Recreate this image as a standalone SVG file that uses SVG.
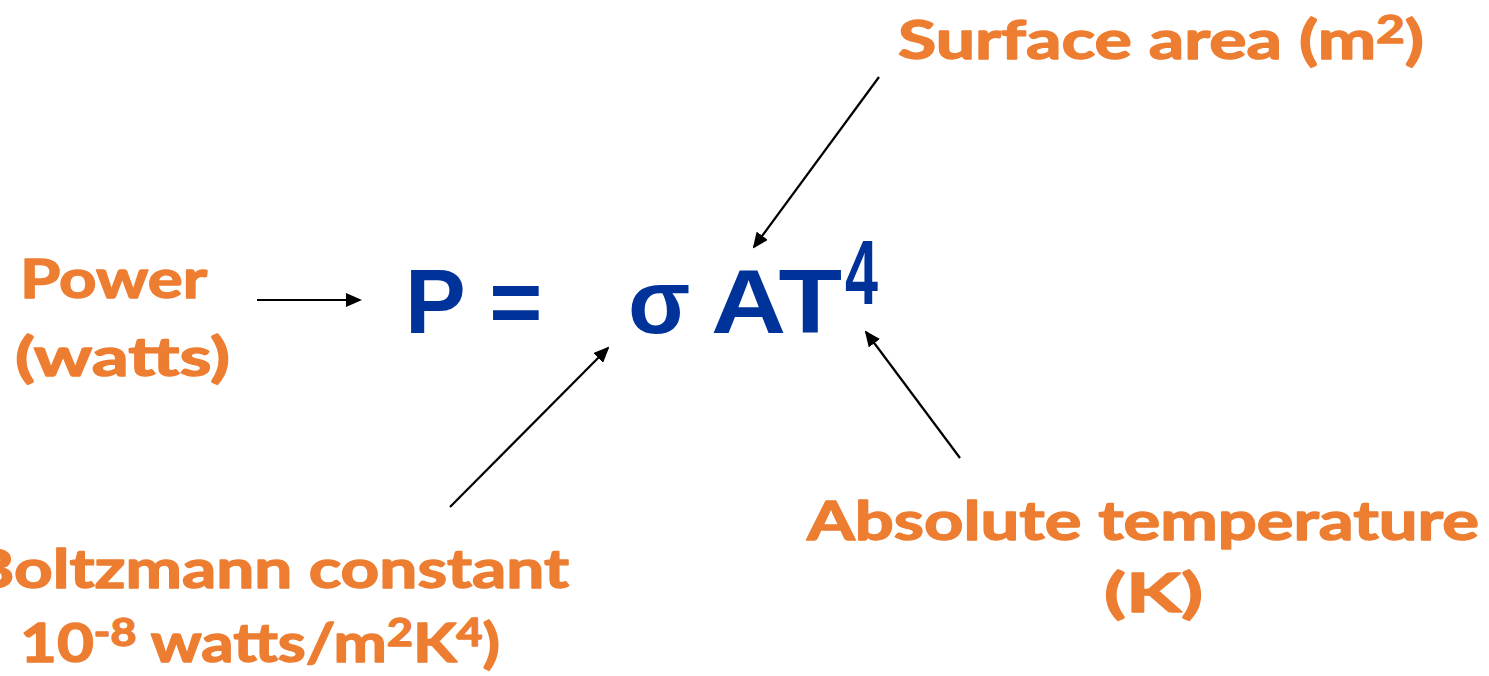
<svg xmlns="http://www.w3.org/2000/svg" width="1489" height="676" viewBox="0 0 1489 676">
  <style>
    .lbl { font-family: Lato, "Open Sans", "Liberation Sans", sans-serif; font-weight: 700; font-size: 54px; fill: #ED7D31; stroke: #ED7D31; stroke-width: 1.4px; stroke-linejoin: round; }
    .eq { font-family: "Liberation Sans", Arial, sans-serif; font-weight: 700; font-size: 91px; fill: #003399; }
    .conn { stroke: #000; stroke-width: 2.2; fill: none; marker-end: url(#ah); }
  </style>
  <defs>
    <marker id="ah" markerUnits="userSpaceOnUse" markerWidth="16" markerHeight="14" refX="14" refY="7" orient="auto">
      <path d="M0,0 L16,7 L0,14 z" fill="#000"/>
    </marker>
  </defs>
  <rect width="1489" height="676" fill="#fff"/>

  <g id="connectors">
    <line class="conn" x1="257" y1="300" x2="360" y2="300"/>
    <line class="conn" x1="879" y1="77" x2="754" y2="247"/>
    <line class="conn" x1="450" y1="507" x2="608" y2="348"/>
    <line class="conn" x1="960" y1="458" x2="866" y2="332"/>
  </g>

  <g id="equation">
    <text class="eq" x="405" y="333">P =</text>
    <text class="eq" x="628" y="333">σ</text>
    <text class="eq" x="711" y="333" textLength="131" lengthAdjust="spacingAndGlyphs">AT</text>
    <text class="eq" x="845" y="304" font-size="60" textLength="33" lengthAdjust="spacingAndGlyphs">4</text>
  </g>

  <g id="power">
    <text class="lbl" x="20" y="298" textLength="187" lengthAdjust="spacingAndGlyphs">Power</text>
    <text class="lbl" x="15" y="376" textLength="215" lengthAdjust="spacingAndGlyphs">(watts)</text>
  </g>

  <g id="surface-area">
    <text class="lbl" x="898" y="59" textLength="526" lengthAdjust="spacingAndGlyphs">Surface area (m<tspan font-size="38" dy="-16">2</tspan><tspan dy="16">)</tspan></text>
  </g>

  <g id="boltzmann">
    <text class="lbl" x="-30" y="588" textLength="599" lengthAdjust="spacingAndGlyphs">Boltzmann constant</text>
    <text class="lbl" x="20" y="662" textLength="480" lengthAdjust="spacingAndGlyphs">10<tspan font-size="38" dy="-16">-8</tspan><tspan dy="16"> watts/m</tspan><tspan font-size="38" dy="-16">2</tspan><tspan dy="16">K</tspan><tspan font-size="38" dy="-16">4</tspan><tspan dy="16">)</tspan></text>
  </g>

  <g id="temperature">
    <text class="lbl" x="807" y="540" textLength="672" lengthAdjust="spacingAndGlyphs">Absolute temperature</text>
    <text class="lbl" x="1104" y="612" textLength="99" lengthAdjust="spacingAndGlyphs">(K)</text>
  </g>
</svg>
